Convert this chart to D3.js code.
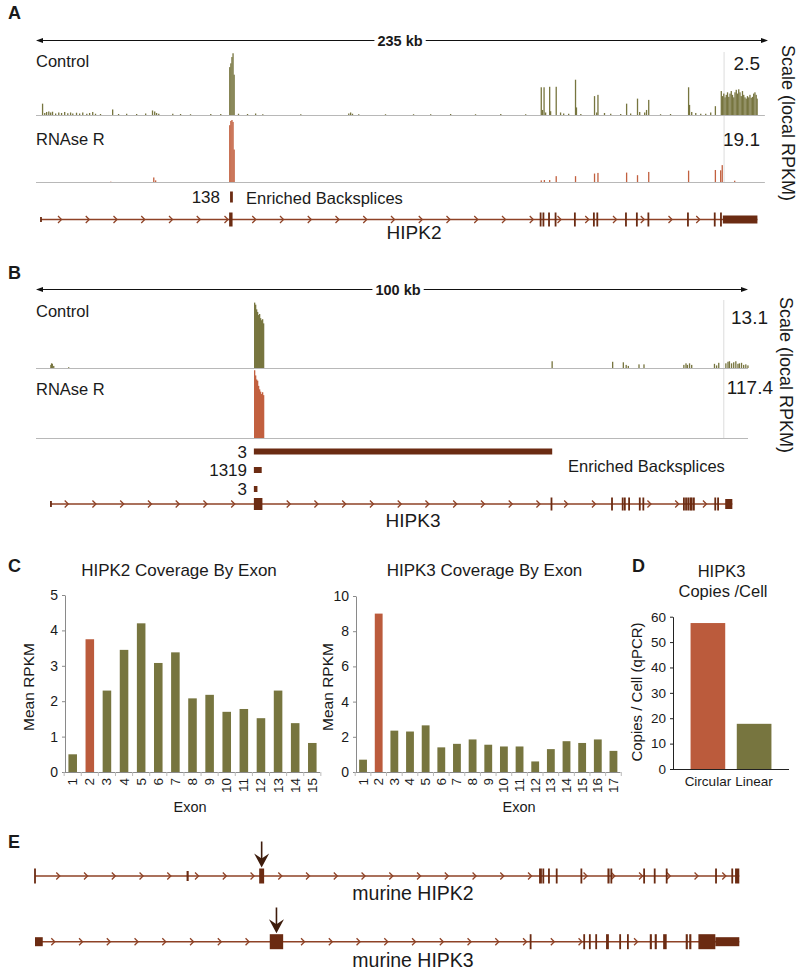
<!DOCTYPE html>
<html>
<head>
<meta charset="utf-8">
<script src="https://cdn.jsdelivr.net/npm/d3@7"></script>
<style>
  body { margin: 0; background: #fff; }
  text { font-family: "Liberation Sans", Arial, sans-serif; fill: #1a1a1a; }
</style>
</head>
<body>
<div id="chart"></div>
<script>
// ---- Panel A: HIPK2 coverage, [kb, RPKM] ----
var hipk2Control = [
  [1.9,0.45],[2.6,0.08],[3.2,0.12],[3.9,0.14],[4.5,0.1],[5.1,0.13],[6.1,0.06],[7.1,0.1],[8.0,0.08],[9.0,0.12],
  [10.0,0.07],[10.9,0.1],[11.6,0.06],[12.8,0.09],[13.8,0.06],[14.8,0.1],[16.1,0.05],[17.0,0.08],[18.0,0.12],[18.9,0.05],
  [20.5,0.04],[24.4,0.22],[26.3,0.04],[28.9,0.05],[32.1,0.04],[35.0,0.06],[37.2,0.18],[37.9,0.14],[38.5,0.08],[39.2,0.05],
  [43.7,0.05],[46.2,0.04],[49.4,0.03],[55.9,0.04],[59.1,0.04],
  [62.0,1.9],[62.35,2.05],[62.7,2.3],[63.05,2.45],[63.4,1.6],
  [64.8,0.05],[67.7,0.04],[70.3,0.06],[72.6,0.03],[84.8,0.03],[100.2,0.06],[100.8,0.1],[101.4,0.05],[103.4,0.03],
  [112.0,0.03],[121.0,0.03],[126.5,0.03],[132.9,0.04],[140.9,0.03],[149.0,0.04],[157.0,0.03],
  [162.0,1.1],[162.4,0.2],[162.9,1.1],[163.4,0.1],[164.7,1.12],[165.0,0.15],[166.8,1.12],[168.2,0.1],[169.2,0.06],[170.8,0.05],
  [173.0,1.4],[173.3,0.3],[174.7,0.04],[179.1,0.75],[179.8,0.1],[180.2,0.8],[182.3,0.08],[184.3,0.05],[187.5,0.04],
  [189.4,0.45],[190.7,0.06],[192.9,0.65],[193.6,0.12],[195.2,0.1],[195.8,0.2],[196.5,0.6],[200.3,0.03],[203.5,0.04],
  [209.3,1.1],[209.6,0.4],[210.3,0.12],[211.6,0.08],[213.2,0.05],[214.8,0.05],[216.4,0.1],[217.9,0.35],
  [219.8,0.95],[220.2,0.75],[220.6,0.85],[221.0,0.7],[221.4,0.8],[221.8,0.9],[222.2,0.72],[222.6,0.85],[223.0,0.95],[223.4,0.8],
  [223.8,0.7],[224.2,0.9],[224.6,1.0],[225.0,0.85],[225.4,1.02],[225.8,0.9],[226.2,0.75],[226.6,0.95],[227.0,0.8],[227.4,0.7],
  [227.8,0.65],[228.2,0.75],[228.6,0.7],[229.0,0.8],[229.4,0.68],[229.8,0.72],[230.2,0.85],[230.6,0.9],[231.0,0.8],[231.3,0.65]
];
var hipk2RNAseR = [
  [23.8,0.1],[37.6,1.4],[38.2,0.5],
  [62.0,17.5],[62.35,18.8],[62.7,19.1],[63.05,18.5],[63.4,10],
  [162.0,0.5],[163.0,0.6],[164.7,0.6],[166.8,1.8],[173.0,1.8],[179.1,2.6],[180.2,2.8],[189.4,2.9],
  [192.9,2.1],[196.5,3.1],[209.3,3.5],[217.9,3.7],[219.6,3.6],[220.1,5.2],[224.1,0.4]
];
var hipk2Max = { control: 2.5, rnaseR: 19.1 };
var hipk2Backsplices = [[62.3, 63.2, '138']];
// exons: [start kb, end kb, height]
var hipk2Exons = [
  [1.6,1.6,5],[62.0,63.1,14],[162.0,162.0,14],[162.9,162.9,14],[164.7,164.7,14],[166.8,166.8,14],[173.0,173.0,14],
  [179.1,179.1,14],[180.2,180.2,14],[189.4,189.4,14],[192.9,192.9,14],[196.6,196.6,14],[209.3,209.3,14],
  [217.9,217.9,14],[219.9,219.9,14],[220.5,231.6,8]
];

// ---- Panel B: HIPK3 coverage, [kb, RPKM] ----
var hipk3Control = [
  [2.0,0.6],[2.1,0.9],[2.2,0.8],[2.4,0.4],[4.5,0.15],
  [30.62,12.6],[30.76,12.2],[30.9,11.3],[31.04,10.8],[31.18,10.2],[31.32,10.4],[31.46,9.6],[31.6,9.2],[31.74,9.4],[31.88,8.6],
  [72.4,1.3],[80.9,1.2],[82.4,1.1],[82.8,0.6],[83.1,0.4],[84.6,0.7],[85.3,0.7],
  [90.9,0.6],[91.2,0.9],[91.4,0.6],[91.7,0.9],[92.0,0.6],[95.2,0.8],[95.5,0.5],[95.8,1.0],
  [96.8,0.9],[97.1,1.2],[97.3,1.3],[97.6,0.9],[97.9,1.1],[98.2,1.3],[98.5,0.8],[98.7,0.9],[99.0,1.0],[99.3,0.6],[99.6,0.7],[99.9,0.5]
];
var hipk3RNAseR = [
  [30.62,117],[30.76,108],[30.9,101],[31.04,99],[31.18,90],[31.32,84],[31.46,80],[31.6,76],[31.74,79],[31.88,74]
];
var hipk3Max = { control: 13.1, rnaseR: 117.4 };
var hipk3Backsplices = [[30.6, 72.5, '3'], [30.6, 31.7, '1319'], [30.6, 31.1, '3']];
var hipk3Exons = [
  [2.1,2.1,6],[30.6,31.8,12],[72.4,72.4,13],[80.9,80.9,13],[82.4,82.4,13],[82.7,82.7,13],[83.3,83.3,13],
  [84.8,84.8,13],[85.3,85.3,13],[91.0,91.0,13],[91.3,91.3,13],[91.6,91.6,13],[91.9,91.9,13],[92.1,92.1,13],
  [92.4,92.4,13],[95.4,95.4,13],[95.8,95.8,13],[96.8,97.8,10]
];

// ---- Panel C: mean RPKM by exon ----
var hipk2Exon = d3.range(1, 16).map(String);
var hipk2Rpkm = [0.5, 3.75, 2.3, 3.45, 4.2, 3.08, 3.38, 2.08, 2.18, 1.7, 1.78, 1.52, 2.3, 1.38, 0.82];
var hipk3Exon = d3.range(1, 18).map(String);
var hipk3Rpkm = [0.7, 9.0, 2.35, 2.3, 2.65, 1.4, 1.6, 1.85, 1.55, 1.45, 1.45, 0.6, 1.3, 1.75, 1.65, 1.85, 1.2];
var circExon = '2';

// ---- Panel D: qPCR copies per cell ----
var copyTypes = ['Circular', 'Linear'];
var copyValues = [57.5, 17.8];

// ---- Panel E: murine gene models, position 0-100 ----
var mHipk2Exons = [
  [0,0,15],[21.5,21.8,10],[31.8,32.5,15],[71.5,71.9,15],[72.0,72.2,15],[72.9,72.9,15],[74.0,74.0,15],[77.5,77.5,15],
  [81.2,81.5,15],[81.7,81.8,15],[86.4,86.4,15],[87.9,87.9,15],[89.6,89.6,15],[96.6,96.6,15],[98.8,99.0,15],[99.3,99.9,15]
];
var mHipk3Exons = [
  [0,1.1,9],[33.3,35.2,15],[70.3,70.3,15],[77.9,77.9,15],[78.7,78.7,15],[79.6,79.6,15],[81.0,81.4,15],[83.0,83.0,15],
  [84.1,84.1,15],[87.2,87.5,15],[87.9,88.2,15],[89.1,89.6,15],[92.3,92.6,15],[92.8,93.1,15],[94.1,96.5,15],[96.5,99.9,9]
];
var mCircExon = [2, 1];

var OLIVE = '#77753f', RED = '#bb5b3c', TRACKRED = '#c2603f', EXON = '#6b2b12', INTRON = '#8e4226';

var svg = d3.select('#chart').append('svg').attr('width', 799).attr('height', 975);

function label(x, y, txt, size, opts) {
  opts = opts || {};
  return svg.append('text').attr('x', x).attr('y', y)
    .attr('font-size', size)
    .attr('font-weight', opts.bold ? 'bold' : null)
    .attr('text-anchor', opts.anchor || 'start')
    .attr('transform', opts.rotate ? 'rotate(' + opts.rotate + ',' + x + ',' + y + ')' : null)
    .text(txt);
}

function drawScaleBar(x0, x1, y, cx, txt) {
  var t = label(cx, y + 5, txt, 14.5, { bold: true, anchor: 'middle' });
  var bb = t.node().getBBox();
  svg.append('line').attr('x1', x0 + 3).attr('x2', bb.x - 3).attr('y1', y).attr('y2', y)
     .attr('stroke', '#111').attr('stroke-width', 1.2);
  svg.append('line').attr('x1', bb.x + bb.width + 3).attr('x2', x1 - 3).attr('y1', y).attr('y2', y)
     .attr('stroke', '#111').attr('stroke-width', 1.2);
  svg.append('path').attr('d', 'M' + x0 + ',' + y + 'l7,-2.5v5z').attr('fill', '#111');
  svg.append('path').attr('d', 'M' + x1 + ',' + y + 'l-7,-2.5v5z').attr('fill', '#111');
}

function drawTrack(x, data, base, top, max, color, bin, endKb) {
  var y = d3.scaleLinear().domain([0, max]).range([base, top]).clamp(true);
  svg.append('line').attr('x1', x(0)).attr('x2', x(endKb)).attr('y1', base + 0.5).attr('y2', base + 0.5)
     .attr('stroke', '#b8b8b8').attr('stroke-width', 1.2);
  svg.append('g').selectAll('rect').data(data).join('rect')
     .attr('x', function(d) { return x(d[0]); })
     .attr('width', Math.max(1.3, x(bin) - x(0)))
     .attr('y', function(d) { return y(d[1]); })
     .attr('height', function(d) { return base - y(d[1]); })
     .attr('fill', color);
}

function drawGene(x, exons, y, chevStart) {
  var g = svg.append('g');
  var x0 = x(exons[0][0]), x1 = x(d3.max(exons, function(e) { return e[1]; }));
  g.append('line').attr('x1', x0).attr('x2', x1).attr('y1', y).attr('y2', y)
   .attr('stroke', INTRON).attr('stroke-width', 1.6);
  var chev = [];
  for (var p = chevStart; p < x1 - 4; p += 27.75) {
    var hit = exons.some(function(e) { return p > x(e[0]) - 2.5 && p < x(e[1]) + 1.5; });
    if (!hit) chev.push(p);
  }
  g.selectAll('path').data(chev).join('path')
   .attr('d', function(p) { return 'M' + (p - 2) + ',' + (y - 3.5) + 'L' + (p + 1.5) + ',' + y + 'L' + (p - 2) + ',' + (y + 3.5); })
   .attr('fill', 'none').attr('stroke', INTRON).attr('stroke-width', 1.3);
  g.selectAll('rect').data(exons).join('rect')
   .attr('x', function(e) { var w = Math.max(1.8, x(e[1]) - x(e[0])); return (x(e[0]) + x(e[1])) / 2 - w / 2; })
   .attr('width', function(e) { return Math.max(1.8, x(e[1]) - x(e[0])); })
   .attr('y', function(e) { return y - e[2] / 2; })
   .attr('height', function(e) { return e[2]; })
   .attr('fill', EXON);
}

function drawBacksplices(x, data, ys, h, labelX) {
  data.forEach(function(d, i) {
    svg.append('rect').attr('x', x(d[0])).attr('width', Math.max(2.5, x(d[1]) - x(d[0])))
       .attr('y', ys[i] - h / 2).attr('height', h).attr('fill', EXON);
    label(labelX, ys[i] + 6, d[2], 17, { anchor: 'end' });
  });
}

function drawScaleLabel(x, y) {
  label(x, y, 'Scale (local RPKM)', 18, { rotate: 90 });
}

// ================= Panel A =================
label(8, 19, 'A', 18, { bold: true });
var xa = d3.scaleLinear().domain([0, 235]).range([36, 768]);
drawScaleBar(xa(0), xa(235), 40.5, 400, '235 kb');
svg.append('line').attr('x1', xa(220.9)).attr('x2', xa(220.9)).attr('y1', 52).attr('y2', 183)
   .attr('stroke', '#dcdcdc').attr('stroke-width', 1);
drawTrack(xa, hipk2Control, 115, 52, hipk2Max.control, OLIVE, 0.35, 234);
drawTrack(xa, hipk2RNAseR, 182, 120, hipk2Max.rnaseR, TRACKRED, 0.35, 234);
label(36, 66.5, 'Control', 16.5);
label(36, 145, 'RNAse R', 16.5);
label(760, 70, String(hipk2Max.control), 19, { anchor: 'end' });
label(760, 145.5, String(hipk2Max.rnaseR), 19, { anchor: 'end' });
drawScaleLabel(782, 45);
drawBacksplices(xa, hipk2Backsplices, [197], 11, 220);
label(246, 203.5, 'Enriched Backsplices', 16.5);
drawGene(xa, hipk2Exons, 219.5, 60);
label(414, 238.5, 'HIPK2', 19, { anchor: 'middle' });

// ================= Panel B =================
label(8, 278.5, 'B', 18, { bold: true });
var xb = d3.scaleLinear().domain([0, 100]).range([36, 748]);
drawScaleBar(xb(0), xb(100), 289.5, 398, '100 kb');
svg.append('line').attr('x1', xb(96.6)).attr('x2', xb(96.6)).attr('y1', 300).attr('y2', 438)
   .attr('stroke', '#dcdcdc').attr('stroke-width', 1);
drawTrack(xb, hipk3Control, 368, 300, hipk3Max.control, OLIVE, 0.14, 100);
drawTrack(xb, hipk3RNAseR, 438, 370, hipk3Max.rnaseR, TRACKRED, 0.14, 100);
label(36, 316.5, 'Control', 16.5);
label(36, 395, 'RNAse R', 16.5);
label(768, 323.5, String(hipk3Max.control), 19, { anchor: 'end' });
label(773, 393.5, String(hipk3Max.rnaseR), 19, { anchor: 'end' });
drawScaleLabel(780, 297);
drawBacksplices(xb, hipk3Backsplices, [451.5, 470, 489], 6, 247);
label(568, 471.5, 'Enriched Backsplices', 16.5);
drawGene(xb, hipk3Exons, 504, 66.7);
label(413, 526.5, 'HIPK3', 19, { anchor: 'middle' });

// ================= Panel C / D bar charts =================
function barChart(o) {
  var x = d3.scaleBand().domain(o.cats).range([o.x0, o.x1]).paddingInner(o.pi).paddingOuter(o.po);
  var y = d3.scaleLinear().domain([0, o.max]).range([o.base, o.top]);
  var g = svg.append('g');
  g.selectAll('rect').data(o.vals).join('rect')
   .attr('x', function(d, i) { return x(o.cats[i]); })
   .attr('width', x.bandwidth())
   .attr('y', function(d) { return y(d); })
   .attr('height', function(d) { return o.base - y(d); })
   .attr('fill', function(d, i) { return o.cats[i] === o.hi ? RED : OLIVE; });
  var ax = g.append('g').attr('transform', 'translate(' + o.x0 + ',0)')
    .call(d3.axisLeft(y).tickValues(o.ticks).tickFormat(d3.format('d'))
      .tickSize(3).tickSizeOuter(0).tickPadding(4));
  ax.select('.domain').attr('stroke', o.axisColor);
  ax.selectAll('.tick line').attr('stroke', o.axisColor);
  ax.selectAll('.tick text').attr('font-size', o.tickFont).attr('fill', '#222')
    .attr('font-family', '"Liberation Sans", Arial, sans-serif');
  g.append('line').attr('x1', o.x0).attr('x2', o.x1).attr('y1', o.base + 0.5).attr('y2', o.base + 0.5)
   .attr('stroke', o.axisColor).attr('stroke-width', 1);
  if (o.rotLabels) {
    var bounds = o.cats.map(function(c) { return x(c) - x.step() * o.pi / 2; }).concat([o.x1 - x.step() * o.po + x.step() * o.pi / 2]);
    g.selectAll('line.sep').data(bounds).join('line').attr('class', 'sep')
     .attr('x1', function(d) { return d; }).attr('x2', function(d) { return d; })
     .attr('y1', o.base).attr('y2', o.base + 4).attr('stroke', '#bbb');
    o.cats.forEach(function(c) {
      var cx = x(c) + x.bandwidth() / 2 + 4.5;
      label(cx, o.base + 6, c, 13.5, { anchor: 'end', rotate: -90 });
    });
  } else {
    o.cats.forEach(function(c) {
      label(x(c) + x.bandwidth() / 2, o.base + 17, c, 13.5, { anchor: 'middle' });
    });
  }
}

label(8, 572, 'C', 18, { bold: true });
label(179, 575.5, 'HIPK2 Coverage By Exon', 17, { anchor: 'middle' });
barChart({ cats: hipk2Exon, vals: hipk2Rpkm, hi: circExon, x0: 65, x1: 320, pi: 0.5, po: 0.2,
  base: 772, top: 595, max: 5, ticks: [0, 1, 2, 3, 4, 5], tickFont: 14, axisColor: '#8a8a8a', rotLabels: true });
label(34, 687, 'Mean RPKM', 15.5, { anchor: 'middle', rotate: -90 });
label(190, 811.5, 'Exon', 14.5, { anchor: 'middle' });

label(484.5, 575.5, 'HIPK3 Coverage By Exon', 17, { anchor: 'middle' });
barChart({ cats: hipk3Exon, vals: hipk3Rpkm, hi: circExon, x0: 356, x1: 620.5, pi: 0.5, po: 0.2,
  base: 772, top: 596, max: 10, ticks: [0, 2, 4, 6, 8, 10], tickFont: 14, axisColor: '#8a8a8a', rotLabels: true });
label(333, 687, 'Mean RPKM', 15.5, { anchor: 'middle', rotate: -90 });
label(519, 811.5, 'Exon', 14.5, { anchor: 'middle' });

label(632, 572, 'D', 18, { bold: true });
label(721.5, 576.5, 'HIPK3', 16.5, { anchor: 'middle' });
label(723, 597, 'Copies /Cell', 16.5, { anchor: 'middle' });
barChart({ cats: copyTypes, vals: copyValues, hi: 'Circular', x0: 673, x1: 789, pi: 0.25, po: 0.38,
  base: 769, top: 616.7, max: 60, ticks: [0, 10, 20, 30, 40, 50, 60], tickFont: 13.5, axisColor: '#222', rotLabels: false });
label(642, 692, 'Copies / Cell (qPCR)', 15, { anchor: 'middle', rotate: -90 });

// ================= Panel E =================
label(8, 848, 'E', 18, { bold: true });
var xe = d3.scaleLinear().domain([0, 100]).range([35, 740]);
drawGene(xe, mHipk2Exons, 876, 58.3);
drawGene(xe, mHipk3Exons, 941.7, 53.3);
[[mHipk2Exons, 876, 841.5], [mHipk3Exons, 941.7, 907.5]].forEach(function(m, i) {
  var e = m[0][mCircExon[i]];
  var cx = xe((e[0] + e[1]) / 2);
  var tipY = m[1] - e[2] / 2 - 1;
  svg.append('line').attr('x1', cx).attr('x2', cx).attr('y1', m[2]).attr('y2', tipY - 8)
     .attr('stroke', '#3e1c0c').attr('stroke-width', 1.6);
  svg.append('path').attr('d', 'M' + cx + ',' + tipY + 'L' + (cx - 7.5) + ',' + (tipY - 14) + 'L' + cx + ',' + (tipY - 9) + 'L' + (cx + 7.5) + ',' + (tipY - 14) + 'Z')
     .attr('fill', '#3e1c0c');
});
label(413, 900, 'murine HIPK2', 19.5, { anchor: 'middle' });
label(413, 967, 'murine HIPK3', 19.5, { anchor: 'middle' });
</script>
</body>
</html>
